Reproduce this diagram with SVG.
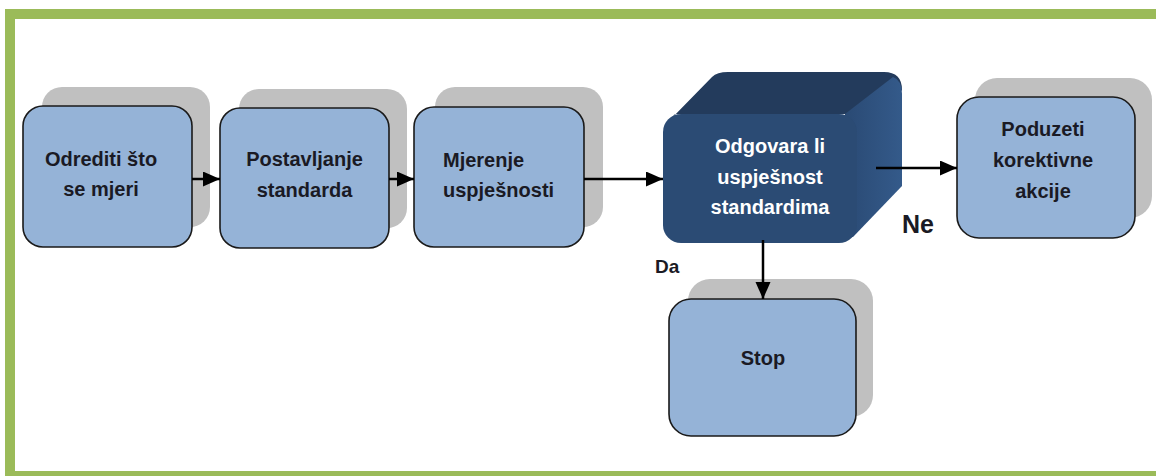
<svg xmlns="http://www.w3.org/2000/svg" width="1156" height="476" viewBox="0 0 1156 476">
<style>
.sh{fill:#c0c0c0}
.bx{fill:#95b3d7;stroke:#1a1a1a;stroke-width:1.6}
.t{font-family:"Liberation Sans",Arial,sans-serif;font-weight:bold;font-size:20px;fill:#1a1a24}
.c{text-anchor:middle}
.w{fill:#ffffff}
.ln{stroke:#000;stroke-width:2.5;fill:none}
.g{fill:#9bbb59}
</style>
<defs>
<marker id="ah" markerUnits="userSpaceOnUse" markerWidth="18" markerHeight="16" refX="17" refY="7.5" orient="auto">
<path d="M0,0 L17,7.5 L0,15 Z" fill="#000"/>
</marker>
<linearGradient id="rf" x1="0" y1="0" x2="1" y2="0">
<stop offset="0" stop-color="#2a4a74"/>
<stop offset="1" stop-color="#345a8a"/>
</linearGradient>
</defs>
<rect width="1156" height="476" fill="#ffffff"/>
<rect class="g" x="5" y="9" width="1151" height="10"/>
<rect class="g" x="5" y="9" width="10" height="467"/>
<rect class="g" x="5" y="471" width="1151" height="5"/>

<g id="n1">
<rect class="sh" x="42" y="87" width="168" height="140" rx="20"/>
<rect class="bx" x="23" y="106" width="169" height="141" rx="20"/>
<text class="t c" x="101" y="166">Odrediti što</text>
<text class="t c" x="101" y="196">se mjeri</text>
</g>
<g id="n2">
<rect class="sh" x="239" y="89" width="168" height="139" rx="20"/>
<rect class="bx" x="220" y="108" width="169" height="140" rx="20"/>
<text class="t c" x="304.5" y="166">Postavljanje</text>
<text class="t c" x="304.5" y="197">standarda</text>
</g>
<g id="n3">
<rect class="sh" x="435" y="87" width="168" height="140" rx="20"/>
<rect class="bx" x="414" y="107" width="170" height="140" rx="20"/>
<text class="t" x="443" y="167">Mjerenje</text>
<text class="t" x="443" y="197">uspješnosti</text>
</g>
<g id="n4">
<path d="M669,121 L712,77 Q717,72 728,72 L884,72 Q902,72 902,90 L860,134 L858,114 L675,114 Z" fill="#233b5c"/>
<path d="M845,114 L893,77 Q902,80 902,94 L902,186 L853,237 L845,237 Z" fill="url(#rf)"/>
<rect x="663" y="114" width="194" height="129" rx="18" fill="#2b4b74"/>
<text class="t c w" x="770" y="153">Odgovara li</text>
<text class="t c w" x="770" y="184">uspješnost</text>
<text class="t c w" x="770" y="214">standardima</text>
</g>
<g id="n5">
<rect class="sh" x="975" y="78" width="177" height="140" rx="22"/>
<rect class="bx" x="957" y="97" width="178" height="141" rx="22"/>
<text class="t c" x="1043" y="136">Poduzeti</text>
<text class="t c" x="1043" y="167">korektivne</text>
<text class="t c" x="1043" y="198">akcije</text>
</g>
<g id="n6">
<rect class="sh" x="688" y="279" width="185" height="138" rx="22"/>
<rect class="bx" x="669" y="299" width="187" height="137" rx="22"/>
<text class="t c" x="763" y="365">Stop</text>
</g>

<g id="connectors">
<line class="ln" x1="192" y1="179" x2="220" y2="179" marker-end="url(#ah)"/>
<line class="ln" x1="389" y1="179" x2="414" y2="179" marker-end="url(#ah)"/>
<line class="ln" x1="584" y1="179" x2="663" y2="179" marker-end="url(#ah)"/>
<line class="ln" x1="876" y1="168" x2="957" y2="168" marker-end="url(#ah)"/>
<line class="ln" x1="763" y1="240" x2="763" y2="299" marker-end="url(#ah)"/>
</g>
<text class="t" x="655" y="273" style="font-size:19px">Da</text>
<text class="t" x="902" y="233" style="font-size:25px">Ne</text>
</svg>
